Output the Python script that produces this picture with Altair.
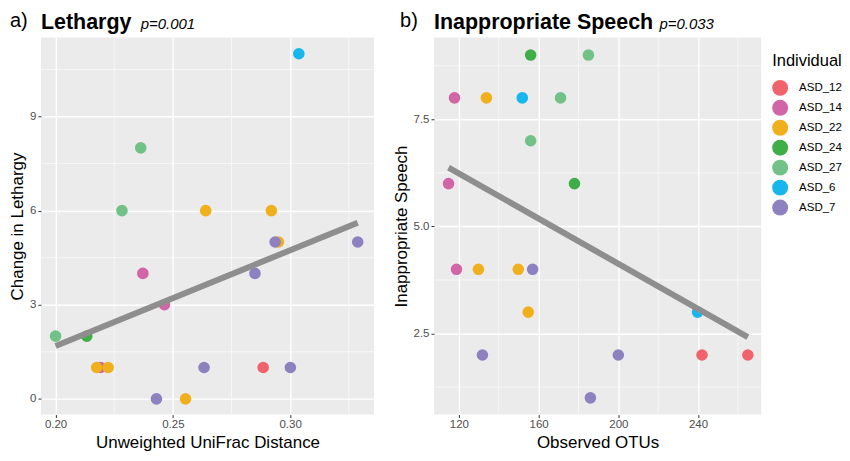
import altair as alt
import pandas as pd

FONT = "Liberation Sans"

individuals = ["ASD_12", "ASD_14", "ASD_22", "ASD_24", "ASD_27", "ASD_6", "ASD_7"]
palette = ["#F0626C", "#D264A8", "#F0B01E", "#40AE48", "#72C288", "#17B6EC", "#8E81C0"]

# Panel a: Lethargy vs Unweighted UniFrac distance
a_dist = [0.2192, 0.2175, 0.2224, 0.3037, 0.2363, 0.2283, 0.2640, 0.2920, 0.2950, 0.2936,
          0.3288, 0.2372, 0.2850, 0.2464, 0.2000, 0.2133, 0.2633, 0.2885, 0.3001, 0.2430, 0.2554]
a_leth = [1, 1, 1, 11, 8, 6, 6, 6, 5, 5,
          5, 4, 4, 3, 2, 2, 1, 1, 1, 0, 0]
a_ind = ["ASD_14", "ASD_22", "ASD_22", "ASD_6", "ASD_27", "ASD_27", "ASD_22", "ASD_22", "ASD_22", "ASD_7",
         "ASD_7", "ASD_14", "ASD_7", "ASD_14", "ASD_27", "ASD_24", "ASD_7", "ASD_12", "ASD_7", "ASD_7", "ASD_22"]

# Panel b: Inappropriate speech vs observed OTUs
b_otus = [156, 185, 117.8, 133.8, 151.8, 171, 156, 114.8, 178, 118.8,
          129.8, 149.8, 157, 154.8, 239.8, 131.8, 200, 242, 265, 186]
b_speech = [9, 9, 8, 8, 8, 8, 7, 6, 6, 4,
            4, 4, 4, 3, 3, 2, 2, 2, 2, 1]
b_ind = ["ASD_24", "ASD_27", "ASD_14", "ASD_22", "ASD_6", "ASD_27", "ASD_27", "ASD_14", "ASD_24", "ASD_14",
         "ASD_22", "ASD_22", "ASD_7", "ASD_22", "ASD_6", "ASD_7", "ASD_7", "ASD_12", "ASD_12", "ASD_7"]

a_xticks = [0.20, 0.25, 0.30]
a_yticks = [0, 3, 6, 9]
a_xminor = [0.225, 0.275, 0.325]
a_yminor = [1.5, 4.5, 7.5, 10.5]
b_xticks = [120, 160, 200, 240]
b_yticks = [2.5, 5.0, 7.5]
b_xminor = [140, 180, 220, 260]
b_yminor = [1.25, 3.75, 6.25, 8.75]

df_a = pd.DataFrame({"x": a_dist, "y": a_leth, "Individual": a_ind})
df_b = pd.DataFrame({"x": b_otus, "y": b_speech, "Individual": b_ind})

color = alt.Color("Individual:N",
                  scale=alt.Scale(domain=individuals, range=palette),
                  legend=alt.Legend(title=["", "Individual"], symbolType="circle", symbolSize=255,
                                    symbolStrokeWidth=0, symbolOpacity=1,
                                    titleFontSize=16.5, titleFontWeight="normal", titleColor="black",
                                    titleLineHeight=16,
                                    labelFontSize=11.5, labelColor="black", rowPadding=4,
                                    labelOffset=11, titlePadding=10, offset=10))

axis_common = dict(grid=True, gridColor="white", gridWidth=1.4, domain=False,
                   tickColor="#333333", tickSize=3, labelColor="#4D4D4D", labelFontSize=11.5,
                   titleFontSize=17, titleFontWeight="normal", titleColor="black")


def panel(df, xdom, ydom, xticks, yticks, xminor, yminor, xtitle, ytitle, xfmt, yfmt,
          title, ptext, pdx, label, ldx, w):
    xs = alt.Scale(domain=xdom, nice=False, zero=False)
    ys = alt.Scale(domain=ydom, nice=False, zero=False)
    base = alt.Chart(df)
    pts = base.mark_circle(size=135, opacity=1).encode(
        x=alt.X("x:Q", scale=xs, axis=alt.Axis(values=xticks, format=xfmt, title=xtitle,
                                              titlePadding=5, labelPadding=1, **axis_common)),
        y=alt.Y("y:Q", scale=ys, axis=alt.Axis(values=yticks, format=yfmt, title=ytitle,
                                              titlePadding=3, labelPadding=2, **axis_common)),
        color=color,
    )
    mx = alt.Chart(pd.DataFrame({"v": xminor})).mark_rule(color="white", strokeWidth=0.6).encode(
        x=alt.X("v:Q", scale=xs))
    my = alt.Chart(pd.DataFrame({"v": yminor})).mark_rule(color="white", strokeWidth=0.6).encode(
        y=alt.Y("v:Q", scale=ys))
    fit = base.transform_regression("x", "y").mark_line(color="#8E8E8E", strokeWidth=6).encode(
        x=alt.X("x:Q", scale=xs), y=alt.Y("y:Q", scale=ys))
    ttxt = alt.Chart(pd.DataFrame({"t": [title]})).mark_text(
        font=FONT, fontSize=21.5, fontWeight="bold", align="left", baseline="alphabetic", color="black"
    ).encode(text="t:N", x=alt.value(0), y=alt.value(-8))
    ptxt = alt.Chart(pd.DataFrame({"t": [ptext]})).mark_text(
        font=FONT, fontSize=15, fontStyle="italic", align="left", baseline="alphabetic", color="black"
    ).encode(text="t:N", x=alt.value(pdx), y=alt.value(-8))
    ltxt = alt.Chart(pd.DataFrame({"t": [label]})).mark_text(
        font=FONT, fontSize=20, align="left", baseline="alphabetic", color="black"
    ).encode(text="t:N", x=alt.value(ldx), y=alt.value(-10))
    return alt.layer(mx, my, pts, fit, ttxt, ptxt, ltxt).properties(width=w, height=378)


left = panel(df_a, [0.19375, 0.3358], [-0.5, 11.52], a_xticks, a_yticks, a_xminor, a_yminor,
             "Unweighted UniFrac Distance", "Change in Lethargy", ".2f", "d",
             "Lethargy", "p=0.001", 100, "a)", -31, 334)
right = panel(df_b, [107.5, 271.7], [0.61, 9.41], b_xticks, b_yticks, b_xminor, b_yminor,
              "Observed OTUs", "Inappropriate Speech", "d", ".1f",
              "Inappropriate Speech", "p=0.033", 226, "b)", -34, 328)

chart = alt.hconcat(left, right, spacing=17).properties(
    padding={"top": 3, "left": 0, "right": 0, "bottom": 0}
).configure(font=FONT).configure_view(fill="#EBEBEB", strokeWidth=0)

chart.save("out.html", embed_options={"renderer": "svg", "actions": False})
